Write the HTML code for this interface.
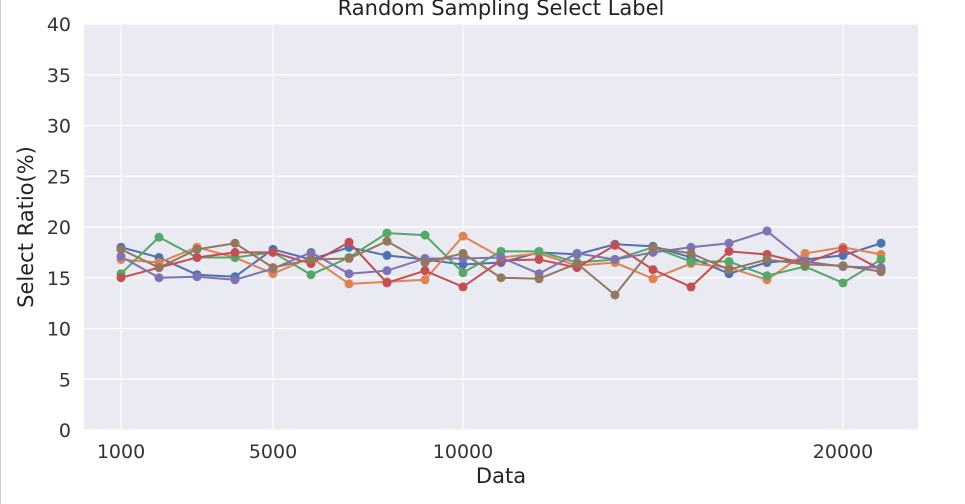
<!DOCTYPE html>
<html><head><meta charset="utf-8"><style>
body{margin:0;background:#fff;width:965px;height:504px;overflow:hidden;font-family:"DejaVu Sans","Liberation Sans",sans-serif}
</style></head><body>
<svg id="c" width="965" height="504" style="position:absolute;left:0;top:0;font-family:'DejaVu Sans','Liberation Sans',sans-serif">
<line x1="0.5" y1="0" x2="0.5" y2="504" stroke="#ccc"/>
</svg>
<script>
const xs=[1000,2000,3000,4000,5000,6000,7000,8000,9000,10000,11000,12000,13000,14000,15000,16000,17000,18000,19000,20000,21000];
const blue=[18.0,17.0,15.3,15.1,17.8,16.8,18.0,17.2,16.8,16.3,16.5,17.5,17.3,18.3,18.1,17.0,15.4,16.5,16.8,17.2,18.4];
const orange=[16.8,16.5,18.0,17.0,15.4,17.0,14.4,14.6,14.8,19.1,17.0,17.4,16.2,16.5,14.9,16.4,16.0,14.8,17.4,18.0,17.3];
const green=[15.4,19.0,17.0,17.0,17.5,15.3,17.0,19.4,19.2,15.5,17.6,17.6,16.5,16.8,18.0,16.6,16.6,15.2,16.1,14.5,16.8];
const red=[15.0,16.0,17.0,17.5,17.5,16.4,18.5,14.5,15.7,14.1,16.7,16.8,16.0,18.2,15.8,14.1,17.6,17.3,16.4,17.8,15.8];
const purple=[17.1,15.0,15.1,14.8,15.9,17.5,15.4,15.7,16.9,16.9,17.0,15.4,17.4,16.8,17.5,18.0,18.4,19.6,16.6,16.1,16.0];
const brown=[17.8,16.0,17.8,18.4,16.0,16.8,16.9,18.6,16.5,17.4,15.0,14.9,16.4,13.3,18.0,17.4,15.8,16.8,16.3,16.2,15.6];
const yTicks=[0,5,10,15,20,25,30,35,40];
const xTicks=[1000,5000,10000,20000];
const seriesData=[blue,orange,green,red,purple,brown];
const seriesNames=['series-blue','series-orange','series-green','series-red','series-purple','series-brown'];
const colors=['#4c72b0','#dd8452','#55a868','#c44e52','#8172b3','#937860'];
const L=84,R=918,T=24,B=430;
const X=v=>121+(v-1000)*0.038;
const Y=v=>B-(v/40)*(B-T);
const svg=document.getElementById('c');
const NS='http://www.w3.org/2000/svg';
function mk(t,a,txt){const e=document.createElementNS(NS,t);for(const k in a)e.setAttribute(k,a[k]);if(txt!=null)e.textContent=txt;svg.appendChild(e);return e;}
let bg=mk('rect',{x:L,y:T,width:R-L,height:B-T,fill:'#eaeaf2'});


yTicks.forEach(t=>{
 let g=mk('line',{x1:L,x2:R,y1:Y(t),y2:Y(t),stroke:'#fff','stroke-width':1.2});
 
 
 let l=mk('text',{x:L-13,y:Y(t)+7,'text-anchor':'end','font-size':19,fill:'#333'},t);
 
 
});
xTicks.forEach(t=>{
 let g=mk('line',{x1:X(t),x2:X(t),y1:T,y2:B,stroke:'#fff','stroke-width':1.2});
 
 
 let l=mk('text',{x:X(t),y:B+28,'text-anchor':'middle','font-size':19,fill:'#333'},t);
 
 
});
seriesData.forEach((d,i)=>{
 let p=mk('polyline',{points:d.map((v,j)=>X(xs[j])+','+Y(v)).join(' '),fill:'none',stroke:colors[i],'stroke-width':2});
 
 
 d.forEach((v,j)=>{
  let c=mk('circle',{cx:X(xs[j]),cy:Y(v),r:4.5,fill:colors[i]});
  
  
 });
});
let ti=mk('text',{x:(L+R)/2,y:15,'text-anchor':'middle','font-size':21,fill:'#222'},'Random Sampling Select Label');


let xt=mk('text',{x:(L+R)/2,y:483,'text-anchor':'middle','font-size':21,fill:'#222'},'Data');


let yt=mk('text',{x:0,y:0,'text-anchor':'middle','font-size':21,fill:'#222',transform:'translate(33,227) rotate(-90)'},'Select Ratio(%)');


</script>
</body></html>
